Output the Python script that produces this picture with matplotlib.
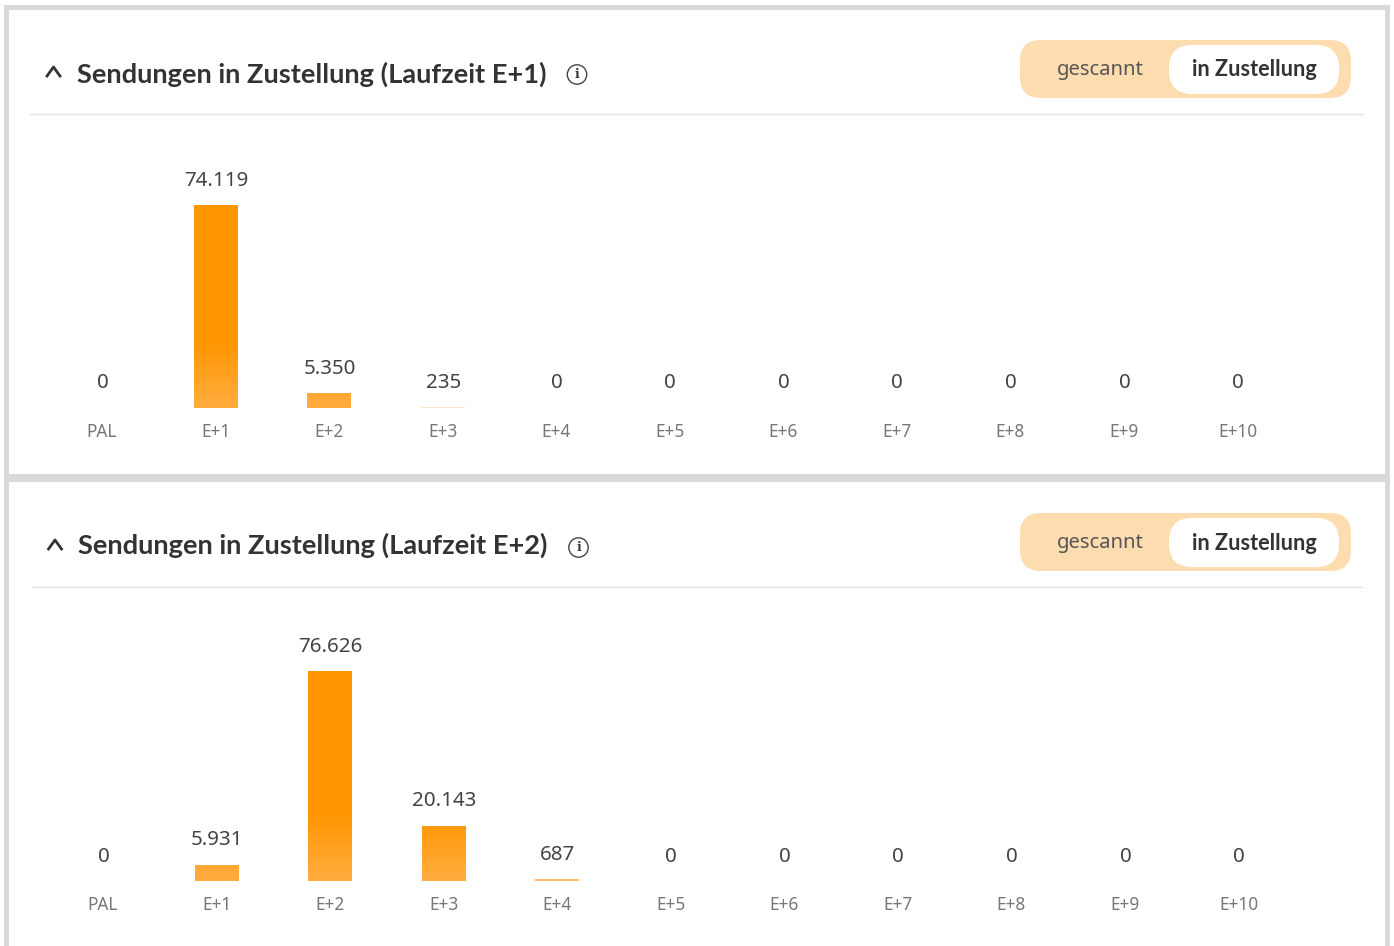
import numpy as np
import matplotlib
matplotlib.use('Agg')
import matplotlib.pyplot as plt
from matplotlib.colors import LinearSegmentedColormap
from matplotlib.patches import FancyBboxPatch, Rectangle, Circle

W, H = 1394, 946

categories = ['PAL', 'E+1', 'E+2', 'E+3', 'E+4', 'E+5', 'E+6', 'E+7', 'E+8', 'E+9', 'E+10']
values_e1 = [0, 74119, 5350, 235, 0, 0, 0, 0, 0, 0, 0]
values_e2 = [0, 5931, 76626, 20143, 687, 0, 0, 0, 0, 0, 0]
title_e1 = 'Sendungen in Zustellung (Laufzeit E+1)'
title_e2 = 'Sendungen in Zustellung (Laufzeit E+2)'

plt.rcParams['font.family'] = ['Noto Sans', 'DejaVu Sans']

DARK = '#333333'
grad = LinearSegmentedColormap.from_list('g', ['#ffad40', '#ff9500'])

fig = plt.figure(figsize=(W / 100, H / 100), dpi=100, facecolor='white')

# whole figure in pixel coordinates for the card furniture
bg = fig.add_axes([0, 0, 1, 1])
bg.set_xlim(0, W)
bg.set_ylim(H, 0)
bg.axis('off')
bg.add_patch(Rectangle((4, 5), 1386, 941, fc='#d9d9d9', ec='none'))
bg.add_patch(Rectangle((9, 10), 1376, 464, fc='white', ec='none'))
bg.add_patch(Rectangle((9, 482), 1376, 464, fc='white', ec='none'))


def pill(x0, y0, x1, y1, r, color):
    bg.add_patch(FancyBboxPatch((x0 + r, y0 + r), x1 - x0 - 2 * r, y1 - y0 - 2 * r,
                                boxstyle='round,pad=%d,rounding_size=%d' % (r, r),
                                fc=color, ec='none'))


def header(title, dx, top, rule_x0, rule_y, title_y):
    # top is the y of the toggle's upper edge
    bg.plot([47 + dx, 53.5 + dx, 60 + dx], [top + 36, top + 27, top + 36], color=DARK, lw=2)
    bg.text(77 + dx, title_y, title, fontsize=19.6, fontweight='bold', family='Lato',
            color=DARK, va='center', ha='left')
    bg.add_patch(Circle((577 + dx, top + 34.5), 9.7, fc='none', ec='#444444', lw=1))
    bg.text(577 + dx, top + 34.5, 'i', fontsize=9, fontweight='bold', family='DejaVu Serif',
            color=DARK, va='center', ha='center')
    pill(1020, top, 1351, top + 58, 21, '#fddcb0')
    pill(1169, top + 5, 1339, top + 54, 23, 'white')
    bg.text(1100, top + 30, 'gescannt', fontsize=14.6, color='#555555', va='center', ha='center')
    bg.text(1254, top + 30, 'in Zustellung', fontsize=15.6, fontweight='bold', family='Lato',
            color=DARK, va='center', ha='center')
    bg.plot([rule_x0, 1362], [rule_y, rule_y], color='#e2e2e2', lw=1)


def chart(values, x_first, base, top_px, px_per_unit):
    # axes run from the baseline up to top_px, x positions follow the bar spacing
    step = 113.55
    left = x_first - step * 0.5
    right = x_first + step * 10.5
    ax = fig.add_axes([left / W, 1 - base / H, (right - left) / W, (base - top_px) / H])
    ax.patch.set_alpha(0)
    ymax = (base - top_px) / px_per_unit
    ax.set_xlim(-0.5, 10.5)
    ax.set_ylim(0, ymax)
    x = np.arange(len(categories))
    width = 44 / step
    colors = ['#ffe6c8' if v < 500 else '#ffbe72' if v < 1000 else '#ffad40' for v in values]
    bars = ax.bar(x, values, width=width, color=colors, ec='none', zorder=2)
    # colour ramp is tied to the height in the chart, not to the single bar
    ramp_top = 68 / px_per_unit
    ramp = np.linspace(1, 0, 128).reshape(-1, 1)
    for b, v in zip(bars, values):
        if v < 1000:
            continue
        if v > ramp_top:
            ax.bar(b.get_x() + width / 2, v - ramp_top, width=width, bottom=ramp_top,
                   color='#ff9500', ec='none', zorder=3)
        im = ax.imshow(ramp, extent=[b.get_x(), b.get_x() + width, 0, ramp_top], cmap=grad,
                       aspect='auto', zorder=3, vmin=0, vmax=1)
        im.set_clip_path(b)
    ax.set_xlim(-0.5, 10.5)
    ax.set_ylim(0, ymax)
    for xi, v in zip(x, values):
        label = f'{v:,}'.replace(',', '.')
        ax.annotate(label, (xi, v), xytext=(0.5, 24.5), textcoords='offset pixels',
                    ha='center', va='center', fontsize=14.8, color='#444444')
    ax.set_xticks(x, categories)
    ax.tick_params(axis='x', length=0, pad=11, labelsize=12.4, labelcolor='#777777')
    ax.set_yticks([])
    for s in ax.spines.values():
        s.set_visible(False)


header(title_e1, 0, 40, 30, 114.5, 74)
header(title_e2, 1.5, 513, 32, 587, 545.5)
chart(values_e1, 102, 408, 150, 203 / 74119)
chart(values_e2, 103, 881, 620, 210 / 76626)

fig.savefig('out.png', dpi=100)
